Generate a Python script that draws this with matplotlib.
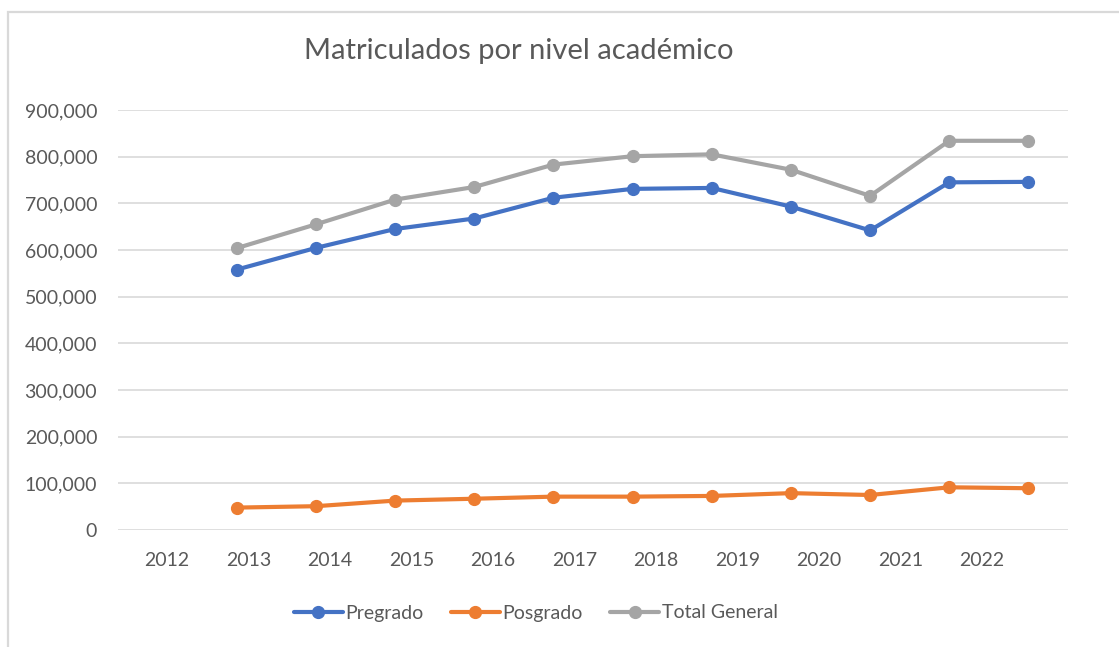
import matplotlib
matplotlib.use("Agg")
import matplotlib.pyplot as plt
from matplotlib.patches import Rectangle
from matplotlib.ticker import FuncFormatter

plt.rcParams['font.family'] = ['Lato', 'DejaVu Sans']

# --- data ---
tick_labels = ['2012', '2013', '2014', '2015', '2016', '2017', '2018', '2019', '2020', '2021', '2022']
n_categories = 12
data_index = [1, 2, 3, 4, 5, 6, 7, 8, 9, 10, 11]
pregrado = [558000, 604500, 645000, 667500, 712000, 731000, 733000, 693000, 642000, 745000, 746000]
posgrado = [48000, 51000, 63000, 67000, 71500, 71500, 73000, 79000, 75000, 91500, 89500]
total = [604000, 655000, 708000, 735000, 783000, 801000, 805000, 772000, 716000, 834000, 834000]

W, H = 1119, 647
fig = plt.figure(figsize=(W / 100, H / 100), dpi=100)
fig.patch.set_facecolor('white')

# chart border
fig.patches.append(Rectangle((8 / W, -0.1), 1.2, 1 - 12 / H + 0.1, transform=fig.transFigure,
                             fill=False, edgecolor='#D9D9D9', linewidth=1.6))

ax = fig.add_axes([118 / W, 1 - 530 / H, 950 / W, 420 / H])
colors = {'Pregrado': '#4472C4', 'Posgrado': '#ED7D31', 'Total General': '#A5A5A5'}
for name, vals in [('Pregrado', pregrado), ('Posgrado', posgrado), ('Total General', total)]:
    ax.plot(data_index, vals, color=colors[name], lw=3.0, marker='o', ms=8.5,
            solid_capstyle='round', label=name, zorder=3)

ax.set_xlim(-0.5, n_categories - 0.5)
ax.set_ylim(0, 900000)
ax.set_yticks(range(0, 900001, 100000))
ax.yaxis.set_major_formatter(FuncFormatter(lambda v, p: f"{int(v):,}"))
ax.grid(axis='y', color='#D9D9D9', lw=1.2)
ax.set_axisbelow(True)
for s in ax.spines.values():
    s.set_visible(False)

label_start, label_step = 0.12, 1.029
ax.set_xticks([label_start + label_step * k for k in range(len(tick_labels))])
ax.set_xticklabels(tick_labels)
ax.tick_params(axis='both', length=0, labelsize=14, labelcolor='#595959')
ax.tick_params(axis='y', pad=15)
ax.tick_params(axis='x', pad=16)

fig.text(519 / W, 1 - 59 / H, 'Matriculados por nivel académico', ha='center', va='baseline',
         fontsize=21, color='#595959')

fig.legend(loc='center', bbox_to_anchor=(536 / W, 1 - 613 / H), ncol=3, frameon=False,
           fontsize=14, handlelength=2.5, handletextpad=0.15, columnspacing=1.4,
           labelcolor='#595959')

fig.savefig('out.png', dpi=100)
